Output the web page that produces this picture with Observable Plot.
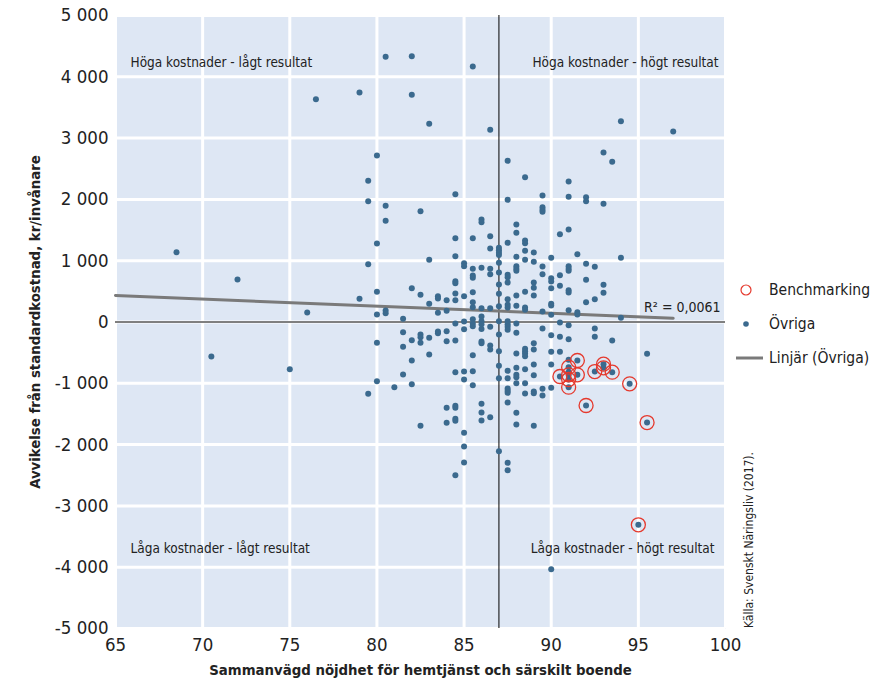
<!DOCTYPE html>
<html>
<head>
<meta charset="utf-8">
<script src="https://cdn.jsdelivr.net/npm/d3@7"></script>
<script src="https://cdn.jsdelivr.net/npm/@observablehq/plot@0.6"></script>
<style>
  body { margin: 0; background: #fff; }
  #wrap { position: relative; width: 879px; height: 700px; font-family: "Liberation Sans Narrow", "DejaVu Sans Condensed", "Roboto Condensed", sans-serif; }
  #legend { position: absolute; left: 736px; top: 273px; font-size: 15.5px; color: #222; }
  #legend div { height: 34px; display: flex; align-items: center; }
  #legend svg { width: 28px; height: 20px; margin-right: 5px; }
  #source { position: absolute; left: 742px; top: 628px; transform: rotate(-90deg); transform-origin: 0 0; font-size: 12px; color: #222; white-space: nowrap; }
</style>
</head>
<body>
<div id="wrap"></div>
<script>
// Övriga: x columns (satisfaction) and y values (deviation, kr/invånare)
const ovrigaX = [68.5, 70.5, 72, 75, 76, 76.5, 79, 79.5, 80, 80.5, 81, 81.5, 82, 82.5, 83, 83.5, 84, 84.5, 85, 85.5, 86, 86.5, 87, 87.5, 88, 88.5, 89, 89.5, 90, 90.5, 91, 91.5, 92, 92.5, 93, 93.5, 94, 95.5, 97];
const ovrigaY = [
  [1139],
  [-563],
  [693],
  [-769],
  [155],
  [3635],
  [3744, 378],
  [2303, 1971, 943, -1172],
  [2716, 1281, 492, 122, -340, -965],
  [4326, 1895, 1651, 188, 144],
  [-1063],
  [52, -166, -405, -856],
  [4336, 3706, 552, -297, -628, -1015],
  [1808, 443, -204, -248, -340, -1693],
  [3233, 1014, 297, -258, -530],
  [421, 383, 150, -155, -183],
  [356, 183, -150, -313, -1400, -1644],
  [2085, 1368, 1074, 666, 633, 465, 356, -24, -302, -818, -1367, -1400, -1579, -1612, -2499],
  [960, 911, 421, 8, -117, -808, -938, -1808, -2031, -2292],
  [4168, 1367, 868, 759, 721, 486, 323, 241, 46, -24, -68, -541, -803, -1031],
  [1672, 1628, 884, 225, 90, 13, -36, -115, -318, -345, -1335, -1476, -1607],
  [3135, 1400, 1199, 868, 780, 225, -79, -383, -449, -1552],
  [1210, 1170, 1130, 1095, 966, 808, 612, 460, 258, 13, -204, -476, -715, -917, -2108],
  [2630, 1993, 1292, 770, 731, 644, 372, 280, 237, 13, -36, -79, -125, -796, -917, -1085, -1123, -1155, -1313, -2297, -2417],
  [1590, 1455, 1063, 910, 868, 835, 432, 264, -24, -177, -514, -748, -862, -900, -998, -1481, -1672],
  [2362, 1330, 1285, 1161, 1014, 492, 237, 199, -438, -476, -514, -557, -770, -998, -1166],
  [1134, 982, 644, 558, 432, -345, -449, -693, -867, -1134, -1161, -1694],
  [2064, 1873, 1830, 1798, 905, 780, 171, -106, -1090, -1199],
  [1047, 715, 661, 552, 297, 269, 117, -215, -487, -693, -1074, -4032],
  [1432, 764, 590, -8, -242, -487],
  [2292, 2042, 1509, 910, 868, 835, 519, 481, 193, -52, -280, -617, -819],
  [1106, 160, 122],
  [2036, 1971, 949, 688, 323],
  [900, 372, -106, -242],
  [2765, 1928, 607, 476],
  [2613, -302],
  [3276, 1047, 69],
  [-519],
  [3108]
];
// Benchmarking municipalities
const benchX = [90.5, 91, 91, 91, 91, 91.5, 91.5, 92, 92.5, 93, 93, 93.5, 94.5, 95.5, 95];
const benchY = [-889, -737, -862, -938, -1063, -628, -862, -1362, -808, -688, -748, -819, -1008, -1640, -3308];
// Linear trend (Övriga)
const trendX = [65, 97];
const trendY = [432, 62];
const rSquared = "R² = 0,0061";
const xTicks = [65, 70, 75, 80, 85, 90, 95, 100];
const yTicks = [-5000, -4000, -3000, -2000, -1000, 0, 1000, 2000, 3000, 4000, 5000];
const quadrantLabels = ["Höga kostnader - lågt resultat", "Höga kostnader - högt resultat", "Låga kostnader - lågt resultat", "Låga kostnader - högt resultat"];
const xTitle = "Sammanvägd nöjdhet för hemtjänst och särskilt boende";
const yTitle = "Avvikelse från standardkostnad, kr/invånare";
const medianX = 87;

const ovriga = ovrigaX.flatMap((x, i) => ovrigaY[i].map(y => ({x, y})));
const bench = benchX.map((x, i) => ({x, y: benchY[i]}));
const trend = trendX.map((x, i) => ({x, y: trendY[i]}));

const fmt = d => (d < 0 ? "-" : "") + d3.format(",")(Math.abs(d)).replace(/,/g, " ");
const FONT = '"Liberation Sans Narrow", "DejaVu Sans Condensed", "Roboto Condensed", sans-serif';
const dotColor = "#3b6a8e";

const chart = Plot.plot({
  width: 879,
  height: 700,
  marginLeft: 115,
  marginRight: 154,
  marginTop: 15,
  marginBottom: 72,
  style: {fontFamily: FONT, fontSize: "16px", color: "#222", background: "white"},
  x: {domain: [65, 100]},
  y: {domain: [-5000, 5000]},
  marks: [
    Plot.frame({fill: "#dee7f4", stroke: "none"}),
    Plot.gridX(xTicks, {stroke: "white", strokeOpacity: 1, strokeWidth: 3}),
    Plot.gridY(yTicks, {stroke: "white", strokeOpacity: 1, strokeWidth: 3}),
    Plot.axisX(xTicks, {tickSize: 0, tickPadding: 9, label: null, fontSize: 18.5}),
    Plot.axisY(yTicks, {tickSize: 0, tickPadding: 7, label: null, tickFormat: fmt, fontSize: 18.5}),
    Plot.ruleY([0], {stroke: "black", strokeWidth: 1}),
    Plot.ruleX([medianX], {stroke: "black", strokeWidth: 1}),
    Plot.line(trend, {x: "x", y: "y", stroke: "#7a7a7a", strokeWidth: 3}),
    Plot.dot(ovriga, {x: "x", y: "y", r: 3, fill: dotColor}),
    Plot.dot(bench, {x: "x", y: "y", r: 3, fill: dotColor}),
    Plot.dot(bench, {x: "x", y: "y", r: 7, stroke: "#e5392d", strokeWidth: 1.3, fill: "none"}),
    Plot.text([quadrantLabels[0]], {frameAnchor: "top-left", lineAnchor: "middle", dx: 15, dy: 47, fontSize: 13.5, fill: "#222"}),
    Plot.text([quadrantLabels[1]], {frameAnchor: "top-right", lineAnchor: "middle", dx: -7, dy: 47, fontSize: 13.5, fill: "#222"}),
    Plot.text([quadrantLabels[2]], {frameAnchor: "bottom-left", lineAnchor: "middle", dx: 15, dy: -80, fontSize: 13.5, fill: "#222"}),
    Plot.text([quadrantLabels[3]], {frameAnchor: "bottom-right", lineAnchor: "middle", dx: -11, dy: -80, fontSize: 13.5, fill: "#222"}),
    Plot.text([rSquared], {frameAnchor: "right", lineAnchor: "middle", dx: -5, dy: -14, fontSize: 14, fill: "#222"}),
    Plot.text([xTitle], {frameAnchor: "bottom", lineAnchor: "middle", dy: 42, fontSize: 14.8, fontWeight: "bold", fill: "#222"}),
    Plot.text([yTitle], {frameAnchor: "left", lineAnchor: "middle", textAnchor: "middle", rotate: -90, dx: -80, fontSize: 14.8, fontWeight: "bold", fill: "#222"})
  ]
});

const wrap = document.getElementById("wrap");
wrap.appendChild(chart);

const legend = document.createElement("div");
legend.id = "legend";
legend.innerHTML = `
  <div><svg viewBox="0 0 28 20"><circle cx="10" cy="10" r="5" fill="none" stroke="#e5392d" stroke-width="1.2"/></svg>Benchmarking</div>
  <div><svg viewBox="0 0 28 20"><circle cx="10" cy="10" r="2.8" fill="${dotColor}"/></svg>Övriga</div>
  <div><svg viewBox="0 0 28 20"><line x1="0" y1="10" x2="27" y2="10" stroke="#7a7a7a" stroke-width="3"/></svg>Linjär (Övriga)</div>`;
wrap.appendChild(legend);

const src = document.createElement("div");
src.id = "source";
src.textContent = "Källa: Svenskt Näringsliv (2017).";
wrap.appendChild(src);
</script>
</body>
</html>
